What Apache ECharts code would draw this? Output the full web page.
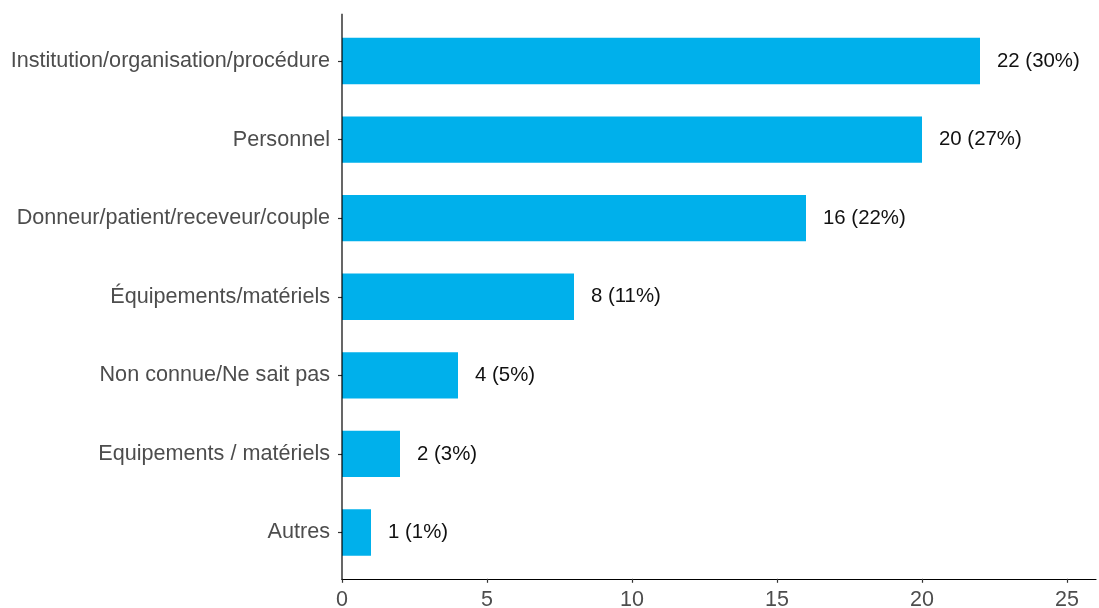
<!DOCTYPE html>
<html><head><meta charset="utf-8">
<script src="https://cdn.jsdelivr.net/npm/echarts@6/dist/echarts.min.js"></script>
<style>html,body{margin:0;padding:0;background:#fff}#c{width:1099px;height:608px}</style>
</head><body><div id="c"></div>
<script>
const categories = ["Institution/organisation/procédure","Personnel","Donneur/patient/receveur/couple","Équipements/matériels","Non connue/Ne sait pas","Equipements / matériels","Autres"];
const counts = [22, 20, 16, 8, 4, 2, 1];
const percents = ["30%", "27%", "22%", "11%", "5%", "3%", "1%"];
const xTicks = [0, 5, 10, 15, 20, 25];

const chart = echarts.init(document.getElementById('c'));
const font = '"Liberation Sans", Arial, sans-serif';
chart.setOption({
  animation: false,
  grid: {left: 342, width: 754, top: 21.7, bottom: 608 - 571.8, containLabel: false, outerBoundsMode: 'none'},
  xAxis: {
    type: 'value', min: 0, max: 26, offset: 7,
    splitLine: {show: false},
    axisLine: {show: true, lineStyle: {color: '#000', width: 1.2}},
    axisTick: {show: true, length: 4, customValues: xTicks, lineStyle: {color: '#333', width: 1.2}},
    axisLabel: {customValues: xTicks, color: '#4d4d4d', fontSize: 21.5, fontFamily: font, margin: 10}
  },
  yAxis: {
    type: 'category', data: categories, inverse: true,
    axisLine: {show: false},
    axisTick: {show: true, length: 4, alignWithLabel: true, lineStyle: {color: '#333', width: 1.2}},
    axisLabel: {color: '#4d4d4d', fontSize: 21.6, fontFamily: font, margin: 12}
  },
  series: [{
    type: 'bar', data: counts, barCategoryGap: '41%',
    itemStyle: {color: '#00B0EB'},
    label: {show: true, position: 'right', distance: 17, color: '#111', fontSize: 20.4, fontFamily: font,
      formatter: p => counts[p.dataIndex] + ' (' + percents[p.dataIndex] + ')'}
  }]
});
// y axis line spanning the expanded range
const p0 = chart.convertToPixel({yAxisIndex: 0}, categories[0]);
const pN = chart.convertToPixel({yAxisIndex: 0}, categories[categories.length - 1]);
const band = (pN - p0) / (categories.length - 1);
const x0 = chart.convertToPixel({xAxisIndex: 0}, 0);
chart.setOption({graphic: [{type: 'line', shape: {x1: x0, y1: p0 - 0.6 * band, x2: x0, y2: pN + 0.6 * band}, style: {stroke: '#000', lineWidth: 1.2}, z: 10}]});
</script></body></html>
